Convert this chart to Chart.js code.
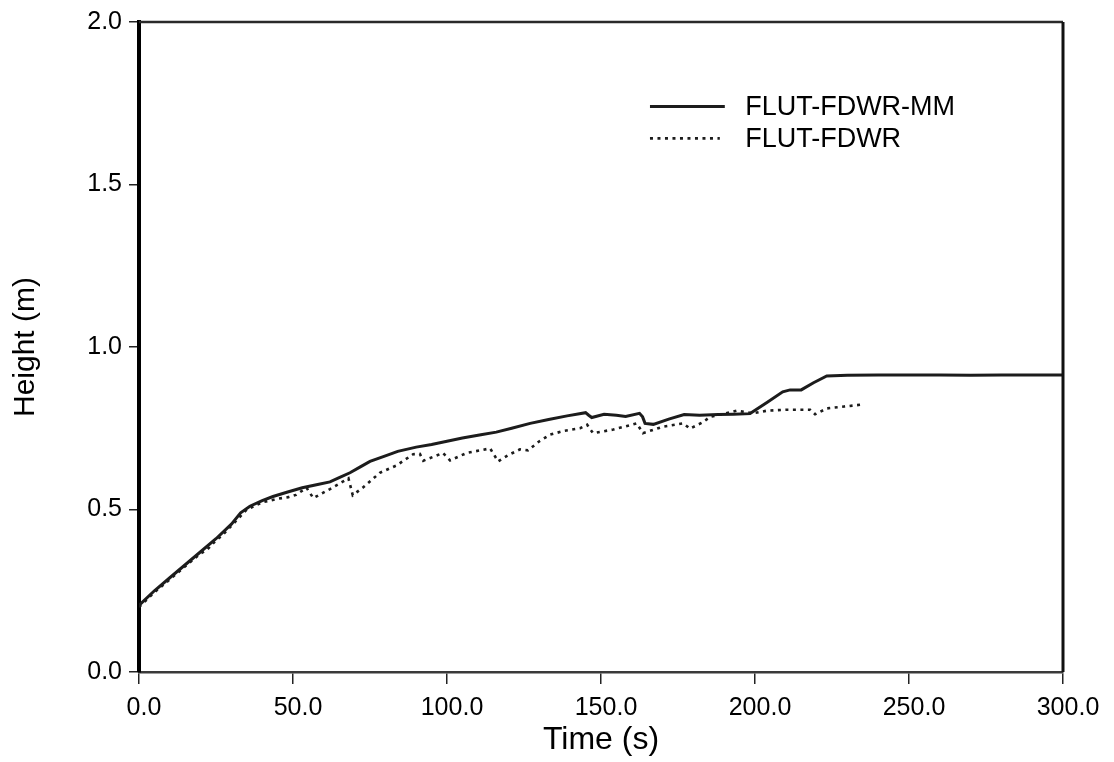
<!DOCTYPE html>
<html>
<head>
<meta charset="utf-8">
<script src="https://cdn.jsdelivr.net/npm/chart.js@4"></script>
<style>
html,body{margin:0;padding:0;background:#fff;}
canvas{display:block;}
</style>
</head>
<body>
<canvas id="c" width="1114" height="762"></canvas>
<script>
// ---- data ----
const seriesNames = ["FLUT-FDWR-MM", "FLUT-FDWR"];
const mmTime   = [0, 5, 10, 15, 20, 25, 30, 33, 36, 40, 43.5, 48, 53, 58, 62, 65, 68.5, 72, 75, 80, 84, 90, 95, 100, 105, 111, 116, 121, 127, 133, 139, 145, 146, 147, 151, 155, 158, 162.5, 163.5, 164.3, 167, 172, 177, 182, 188, 193, 198.4, 204, 209, 211.4, 215, 219, 223.3, 230, 240, 250, 260, 270, 280, 290, 300];
const mmHeight = [0.205, 0.25, 0.29, 0.33, 0.37, 0.41, 0.455, 0.49, 0.51, 0.527, 0.54, 0.553, 0.567, 0.577, 0.585, 0.598, 0.613, 0.632, 0.648, 0.665, 0.679, 0.692, 0.70, 0.71, 0.72, 0.73, 0.738, 0.75, 0.765, 0.777, 0.788, 0.798, 0.79, 0.783, 0.793, 0.79, 0.786, 0.796, 0.785, 0.765, 0.762, 0.778, 0.792, 0.79, 0.792, 0.793, 0.795, 0.83, 0.862, 0.868, 0.868, 0.89, 0.911, 0.913, 0.914, 0.914, 0.914, 0.913, 0.914, 0.914, 0.914];
const fdTime   = [0, 5, 10, 15, 20, 22, 25, 27, 30, 33, 35, 40, 45, 48.5, 51, 54.4, 56.6, 62, 66, 68, 69.4, 72.9, 78.2, 83.7, 89, 91.2, 92.3, 98.7, 101, 106.4, 114, 116.6, 120, 123.7, 126.3, 130, 133.4, 138, 143.2, 145.5, 147.4, 154, 161.6, 163.6, 170.2, 176.7, 178.9, 183, 185.4, 190, 194, 199.4, 203.8, 210.3, 217.9, 219.5, 223.3, 229, 235];
const fdHeight = [0.20, 0.245, 0.285, 0.325, 0.365, 0.375, 0.405, 0.42, 0.45, 0.48, 0.5, 0.522, 0.533, 0.538, 0.545, 0.567, 0.535, 0.563, 0.585, 0.596, 0.544, 0.569, 0.613, 0.636, 0.67, 0.671, 0.65, 0.674, 0.651, 0.674, 0.688, 0.648, 0.668, 0.685, 0.682, 0.71, 0.73, 0.742, 0.75, 0.761, 0.735, 0.746, 0.765, 0.735, 0.755, 0.765, 0.749, 0.768, 0.785, 0.795, 0.804, 0.796, 0.804, 0.807, 0.807, 0.793, 0.811, 0.817, 0.823];
const xTickValues = [0, 50, 100, 150, 200, 250, 300];
const yTickValues = [0, 0.5, 1.0, 1.5, 2.0];
const xTitle = "Time (s)";
const yTitle = "Height (m)";

const toPts = (xs, ys) => xs.map((x, i) => ({x: x, y: ys[i]}));

const FONT = "'Liberation Sans', Arial, sans-serif";

const framePlugin = {
  id: 'frame',
  afterDatasetsDraw(chart) {
    const a = chart.chartArea, ctx = chart.ctx;
    ctx.save();
    ctx.strokeStyle = '#2a2a2a';
    ctx.lineWidth = 2.5;
    ctx.beginPath();
    ctx.moveTo(a.left, a.top); ctx.lineTo(a.right, a.top);
    ctx.stroke();
    ctx.strokeStyle = '#111';
    ctx.lineWidth = 3;
    ctx.beginPath();
    ctx.moveTo(a.right, a.top); ctx.lineTo(a.right, a.bottom);
    ctx.stroke();
    ctx.restore();
  }
};

const legendPlugin = {
  id: 'inlegend',
  afterDraw(chart) {
    const ctx = chart.ctx, a = chart.chartArea;
    const w = a.right - a.left, h = a.bottom - a.top;
    const x0 = a.left + w * 0.553, x1 = a.left + w * 0.634, tx = a.left + w * 0.656;
    const rows = [a.top + h * 0.130, a.top + h * 0.179];
    ctx.save();
    chart.data.datasets.forEach((ds, i) => {
      const y = rows[i];
      ctx.strokeStyle = ds.borderColor;
      ctx.lineWidth = ds.borderWidth;
      ctx.setLineDash(ds.borderDash || []);
      ctx.beginPath();
      ctx.moveTo(x0, y); ctx.lineTo(i === 0 ? x1 : x1 - 5, y);
      ctx.stroke();
      ctx.setLineDash([]);
      ctx.fillStyle = '#000';
      ctx.font = "27px " + FONT;
      ctx.textBaseline = 'middle';
      ctx.textAlign = 'left';
      ctx.fillText(ds.label, tx, y + 1);
    });
    ctx.restore();
  }
};

new Chart(document.getElementById('c'), {
  type: 'line',
  data: {
    datasets: [
      {
        label: seriesNames[0],
        data: toPts(mmTime, mmHeight),
        borderColor: '#1c1c1c',
        borderWidth: 3,
        pointRadius: 0,
        tension: 0,
        fill: false
      },
      {
        label: seriesNames[1],
        data: toPts(fdTime, fdHeight),
        borderColor: '#1c1c1c',
        borderWidth: 2.6,
        borderDash: [3, 4.5],
        pointRadius: 0,
        tension: 0,
        fill: false
      }
    ]
  },
  options: {
    responsive: false,
    devicePixelRatio: 1,
    animation: false,
    layout: { padding: { top: 18, right: 51, left: 0, bottom: 0 } },
    plugins: { legend: { display: false }, tooltip: { enabled: false } },
    scales: {
      x: {
        type: 'linear',
        min: 0, max: 300,
        afterFit(s) { s.height = 90; },
        afterBuildTicks(s) { s.ticks = xTickValues.map(v => ({value: v})); },
        grid: { drawOnChartArea: false, drawTicks: true, tickLength: 12, color: '#222', lineWidth: 1.5 },
        border: { display: true, color: '#3a3a3a', width: 2.5 },
        ticks: {
          color: '#000', padding: 9, maxRotation: 0, labelOffset: 5,
          font: { family: FONT, size: 25 },
          callback: v => Number(v).toFixed(1)
        },
        title: {
          display: true, text: xTitle, color: '#000',
          font: { family: FONT, size: 32 }, padding: { top: 0, bottom: 3 }
        }
      },
      y: {
        type: 'linear',
        min: 0, max: 2,
        afterFit(s) { s.width = 139; },
        afterBuildTicks(s) { s.ticks = yTickValues.map(v => ({value: v})); },
        grid: { drawOnChartArea: false, drawTicks: true, tickLength: 10, color: '#222', lineWidth: 1.5 },
        border: { display: true, color: '#000', width: 4 },
        ticks: {
          color: '#000', padding: 7,
          font: { family: FONT, size: 25 },
          callback: v => Number(v).toFixed(1)
        },
        title: {
          display: true, text: yTitle, color: '#000',
          font: { family: FONT, size: 30 }, padding: { top: 8, bottom: 0 }
        }
      }
    }
  },
  plugins: [framePlugin, legendPlugin]
});
</script>
</body>
</html>
